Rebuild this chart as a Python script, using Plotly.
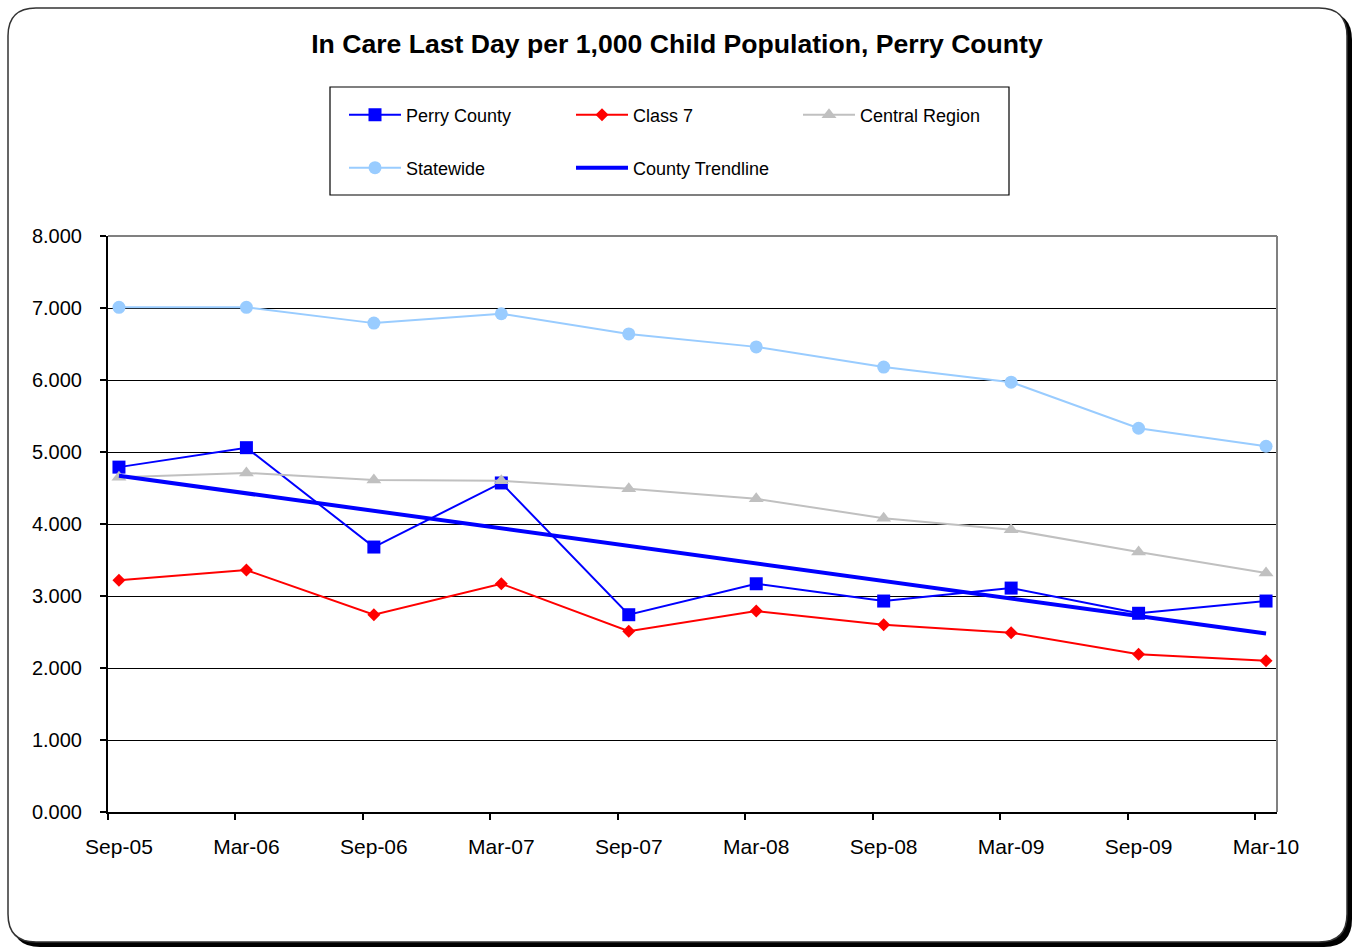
import numpy as np
import plotly.graph_objects as go

categories = ["Sep-05", "Mar-06", "Sep-06", "Mar-07", "Sep-07", "Mar-08", "Sep-08", "Mar-09", "Sep-09", "Mar-10"]
perry_county = [4.79, 5.06, 3.68, 4.57, 2.74, 3.17, 2.93, 3.11, 2.76, 2.93]
class_7 = [3.22, 3.36, 2.74, 3.17, 2.51, 2.79, 2.60, 2.49, 2.19, 2.10]
central_region = [4.65, 4.71, 4.61, 4.60, 4.49, 4.35, 4.08, 3.92, 3.61, 3.32]
statewide = [7.01, 7.01, 6.79, 6.92, 6.64, 6.46, 6.18, 5.97, 5.33, 5.08]
y_ticks = [0, 1, 2, 3, 4, 5, 6, 7, 8]

W, H = 1356, 949
L, R, T, B = 108, 1277, 236, 812
pw, ph = R - L, B - T

def px(x):
    return (x - L) / pw

def py(y):
    return (B - y) / ph

xi = list(range(len(categories)))
slope, intercept = np.polyfit(xi, perry_county, 1)
trend = [intercept + slope * x for x in xi]

FONT = "Liberation Sans, Arial, sans-serif"

fig = go.Figure()
fig.add_trace(go.Scatter(x=xi, y=perry_county, name="Perry County", mode="lines+markers",
                         line=dict(color="#0000FF", width=2),
                         marker=dict(symbol="square", size=13, color="#0000FF"), legend="legend"))
fig.add_trace(go.Scatter(x=xi, y=class_7, name="Class 7", mode="lines+markers",
                         line=dict(color="#FF0000", width=2),
                         marker=dict(symbol="diamond", size=10, color="#FF0000"), legend="legend"))
fig.add_trace(go.Scatter(x=xi, y=central_region, name="Central Region", mode="lines+markers",
                         line=dict(color="#C0C0C0", width=2),
                         marker=dict(symbol="triangle-up", size=13, color="#C0C0C0"), legend="legend"))
fig.add_trace(go.Scatter(x=xi, y=statewide, name="Statewide", mode="lines+markers",
                         line=dict(color="#99CCFF", width=2),
                         marker=dict(symbol="circle", size=13, color="#99CCFF"), legend="legend2"))
fig.add_trace(go.Scatter(x=xi, y=trend, name="County Trendline", mode="lines",
                         line=dict(color="#0000FF", width=4), legend="legend2"))

def rounded_path(x0, y0, x1, y1, r):
    pts = [
        ("M", [(x0 + r, y0)]),
        ("L", [(x1 - r, y0)]),
        ("Q", [(x1, y0), (x1, y0 + r)]),
        ("L", [(x1, y1 - r)]),
        ("Q", [(x1, y1), (x1 - r, y1)]),
        ("L", [(x0 + r, y1)]),
        ("Q", [(x0, y1), (x0, y1 - r)]),
        ("L", [(x0, y0 + r)]),
        ("Q", [(x0, y0), (x0 + r, y0)]),
    ]
    s = ""
    for cmd, ps in pts:
        s += cmd + " ".join(f"{px(a):.5f},{py(b):.5f}" for a, b in ps) + " "
    return s + "Z"

shapes = [
    dict(type="path", xref="paper", yref="paper", path=rounded_path(12, 12, 1352, 947, 28),
         fillcolor="#000000", line=dict(width=0), layer="below"),
    dict(type="path", xref="paper", yref="paper", path=rounded_path(8, 8, 1347, 942, 28),
         fillcolor="#FFFFFF", line=dict(color="#333333", width=1.5), layer="below"),
    dict(type="rect", xref="paper", yref="paper", x0=px(330), x1=px(1009), y0=py(87), y1=py(195),
         fillcolor="#FFFFFF", line=dict(color="#000000", width=1.2), layer="below"),
    dict(type="line", xref="paper", yref="paper", x0=0, x1=1, y0=1, y1=1,
         line=dict(color="#808080", width=2), layer="above"),
    dict(type="line", xref="paper", yref="paper", x0=1, x1=1, y0=0, y1=1,
         line=dict(color="#808080", width=2), layer="above"),
]

legend_common = dict(orientation="h", xanchor="left", yanchor="middle",
                     entrywidth=160, entrywidthmode="pixels", itemwidth=52,
                     bgcolor="rgba(0,0,0,0)", borderwidth=0, font=dict(family=FONT, size=18),
                     traceorder="normal", itemclick=False)

fig.update_layout(
    width=W, height=H, autosize=False,
    margin=dict(l=L, r=W - R, t=T, b=H - B),
    paper_bgcolor="#FFFFFF", plot_bgcolor="rgba(0,0,0,0)",
    font=dict(family=FONT, size=18, color="#000000"),
    title=dict(text="<b>In Care Last Day per 1,000 Child Population, Perry County</b>",
               x=px(677), xanchor="center", xref="paper", y=1 - 44 / H, yanchor="middle",
               font=dict(family=FONT, size=26.6, color="#000000")),
    shapes=shapes,
    showlegend=True,
    legend=dict(x=px(344), y=py(115), **legend_common),
    legend2=dict(x=px(344), y=py(168), **legend_common),
    xaxis=dict(range=[-0.086, 9.086], tickvals=xi, ticktext=categories, ticks="",
               showgrid=False, zeroline=False, showline=True, linecolor="#000000", linewidth=2,
               ticklabelstandoff=15, tickfont=dict(family=FONT, size=21),
               minor=dict(ticks="outside", ticklen=6, tickcolor="#000000", tickwidth=2,
                          tick0=-0.086, dtick=1, showgrid=False)),
    yaxis=dict(range=[0, 8], tickvals=y_ticks, tickformat=".3f", ticks="outside", ticklen=6,
               tickcolor="#000000", tickwidth=2, showgrid=True, gridcolor="#000000", gridwidth=1,
               zeroline=False, showline=True, linecolor="#000000", linewidth=2,
               ticklabelstandoff=14, tickfont=dict(family=FONT, size=20)),
)

fig.write_html("out.html")
